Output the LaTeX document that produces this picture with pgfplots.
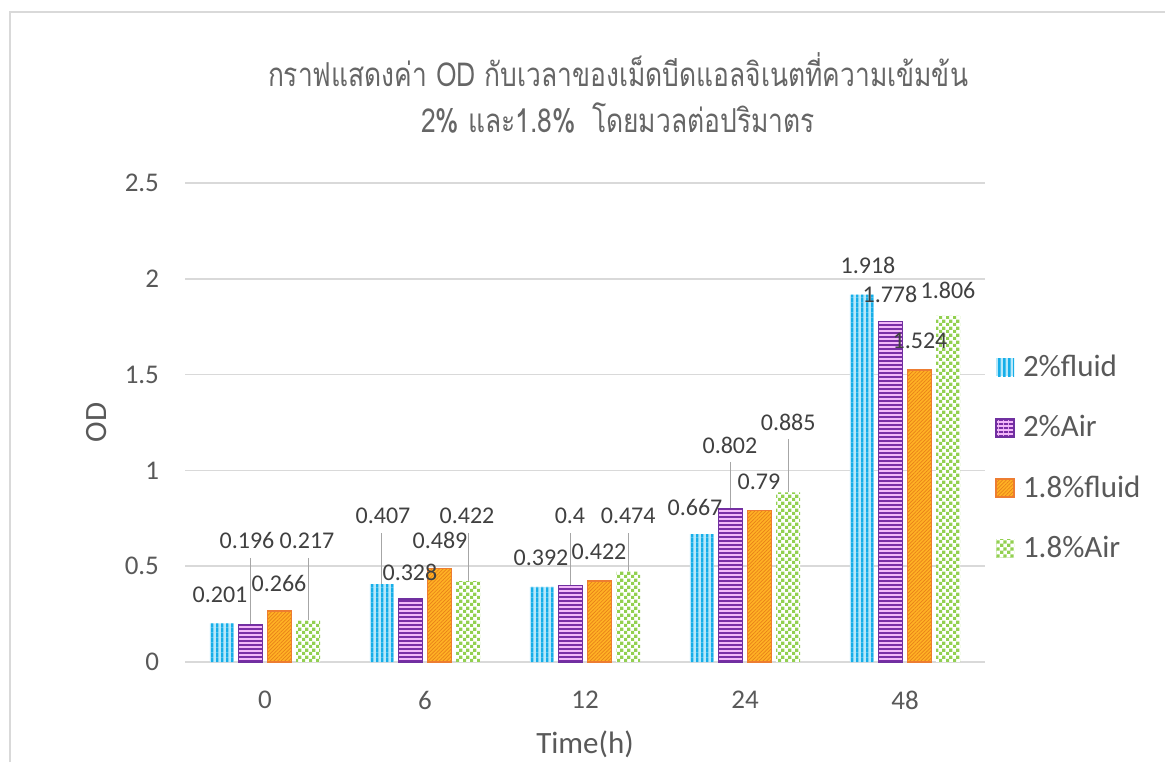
\documentclass[border=0pt]{standalone}
\usepackage{pgfplots}
\pgfplotsset{compat=1.18}
\usepackage{fontspec}
\setmainfont{Carlito}
\newfontfamily\thaifont[Script=Thai, FakeStretch=0.8]{Loma}
\usetikzlibrary{patterns,patterns.meta}

\definecolor{txt}{HTML}{595959}
\definecolor{ttl}{HTML}{666666}
\definecolor{lbl}{HTML}{404040}
\definecolor{gridc}{HTML}{D9D9D9}
\definecolor{leader}{HTML}{A6A6A6}
\definecolor{cyanS}{HTML}{16AEE8}
\definecolor{cyanB}{HTML}{B8E8FA}
\definecolor{purpS}{HTML}{7A2DA6}
\definecolor{purpB}{HTML}{F2B8F8}
\definecolor{purpE}{HTML}{7030A0}
\definecolor{orgB}{HTML}{FFB224}
\definecolor{orgS}{HTML}{E8801A}
\definecolor{orgE}{HTML}{ED7D31}
\definecolor{grnS}{HTML}{92D050}

\pgfdeclarepatternformonly{vstripe}{\pgfpointorigin}{\pgfqpoint{2.4pt}{2.4pt}}{\pgfqpoint{2.4pt}{2.4pt}}%
{\pgfpathrectangle{\pgfpointorigin}{\pgfqpoint{1.3pt}{2.4pt}}\pgfusepath{fill}}
\pgfdeclarepatternformonly{hstripe}{\pgfpointorigin}{\pgfqpoint{2.2pt}{2.2pt}}{\pgfqpoint{2.2pt}{2.2pt}}%
{\pgfpathrectangle{\pgfpointorigin}{\pgfqpoint{2.2pt}{1.1pt}}\pgfusepath{fill}}
\pgfdeclarepatternformonly{mycheck}{\pgfpointorigin}{\pgfqpoint{3.6pt}{3.6pt}}{\pgfqpoint{3.6pt}{3.6pt}}%
{\pgfpathrectangle{\pgfpointorigin}{\pgfqpoint{1.8pt}{1.8pt}}%
 \pgfpathrectangle{\pgfqpoint{1.8pt}{1.8pt}}{\pgfqpoint{1.8pt}{1.8pt}}\pgfusepath{fill}}

\tikzset{
  s1/.style={fill=cyanB, draw=none, postaction={pattern=vstripe, pattern color=cyanS}},
  s2/.style={fill=purpB, draw=purpE, line width=0.8pt, postaction={pattern=hstripe, pattern color=purpS}},
  s3/.style={fill=orgB, draw=orgE, line width=0.8pt, postaction={pattern={Lines[angle=45,distance=1.3pt,line width=0.35pt]}, pattern color=orgS}},
  s4/.style={fill=white, draw=none, postaction={pattern=mycheck, pattern color=grnS}},
  dl/.style={font=\fontsize{12}{14}\selectfont, text=lbl, inner sep=0pt, anchor=center},
  ld/.style={draw=leader, line width=0.6pt},
}

\pgfplotstableread{
x  f2     a2     f18    a18
0  0.201  0.196  0.266  0.217
1  0.407  0.328  0.489  0.422
2  0.392  0.400  0.422  0.474
3  0.667  0.802  0.790  0.885
4  1.918  1.778  1.524  1.806
}\datatab

\begin{document}
\begin{tikzpicture}
\useasboundingbox (0,0) rectangle (582.5pt,381pt);
\draw[gridc, line width=1pt] (5pt,0) -- (5pt,375pt) -- (582.5pt,375pt);

\begin{axis}[
  scale only axis, width=400pt, height=239.5pt,
  at={(92.5pt,50pt)}, anchor=south west,
  xmin=-0.5, xmax=4.5, ymin=0, ymax=2.5,
  xtick={0,1,2,3,4}, xticklabels={0,6,12,24,48},
  ytick={0,0.5,1,1.5,2,2.5}, yticklabels={0,0.5,1,1.5,2,2.5},
  ymajorgrids, grid style={draw=gridc, line width=0.8pt},
  axis line style={draw=none}, major tick length=0pt,
  ticklabel style={font=\fontsize{13.5}{16}\selectfont, text=txt},
  xticklabel style={yshift=-11pt},
  yticklabel style={xshift=-9.5pt},
  /pgf/number format/assume math mode=true,
  xlabel={Time(h)}, ylabel={OD},
  label style={font=\fontsize{15.5}{18}\selectfont, text=txt},
  xlabel style={at={(axis description cs:0.5,-0.171)}, anchor=center},
  ylabel style={at={(axis description cs:-0.111,0.5)}, anchor=center},
  ybar, bar width=0.15,
  legend image code/.code={\path[#1] (0pt,-4.5pt) rectangle (9pt,4.5pt);
    \path[draw=none, fill=none] (12pt,0pt) circle (0pt);},
  legend style={at={(axis description cs:1.0125,0.426)}, anchor=west, draw=none, fill=none,
    font=\fontsize{15.5}{18}\selectfont, text=txt, row sep=16pt, inner sep=0pt,
    nodes={inner sep=1pt}},
  legend cell align=left,
]
\addplot[s1, bar shift=-0.27] table[x=x,y=f2] {\datatab};
\addplot[s2, bar shift=-0.09] table[x=x,y=a2] {\datatab};
\addplot[s3, bar shift=0.09] table[x=x,y=f18] {\datatab};
\addplot[s4, bar shift=0.27] table[x=x,y=a18] {\datatab};
\legend{2\%fluid,2\%Air,1.8\%fluid,1.8\%Air}

% leader lines
\draw[ld] (axis cs:-0.09,0.543) -- (axis cs:-0.09,0.196);
\draw[ld] (axis cs:0.27,0.543) -- (axis cs:0.27,0.217);
\draw[ld] (axis cs:0.73,0.673) -- (axis cs:0.73,0.407);
\draw[ld] (axis cs:1.27,0.673) -- (axis cs:1.27,0.422);
\draw[ld] (axis cs:1.91,0.673) -- (axis cs:1.91,0.400);
\draw[ld] (axis cs:2.27,0.673) -- (axis cs:2.27,0.474);
\draw[ld] (axis cs:2.91,1.044) -- (axis cs:2.91,0.802);
\draw[ld] (axis cs:3.27,1.164) -- (axis cs:3.27,0.885);

% data labels
\node[dl] at (axis cs:-0.281,0.350) {0.201};
\node[dl] at (axis cs:-0.1125,0.632) {0.196};
\node[dl] at (axis cs:0.0875,0.412) {0.266};
\node[dl] at (axis cs:0.2625,0.632) {0.217};
\node[dl] at (axis cs:0.7375,0.762) {0.407};
\node[dl] at (axis cs:0.906,0.470) {0.328};
\node[dl] at (axis cs:1.094,0.637) {0.489};
\node[dl] at (axis cs:1.2625,0.762) {0.422};
\node[dl] at (axis cs:1.725,0.543) {0.392};
\node[dl] at (axis cs:1.906,0.762) {0.4};
\node[dl] at (axis cs:2.0875,0.574) {0.422};
\node[dl] at (axis cs:2.27,0.762) {0.474};
\node[dl] at (axis cs:2.6875,0.809) {0.667};
\node[dl] at (axis cs:2.906,1.133) {0.802};
\node[dl] at (axis cs:3.0875,0.939) {0.79};
\node[dl] at (axis cs:3.27,1.253) {0.885};
\node[dl] at (axis cs:3.769,2.072) {1.918};
\node[dl] at (axis cs:3.906,1.921) {1.778};
\node[dl] at (axis cs:4.094,1.675) {1.524};
\node[dl] at (axis cs:4.269,1.942) {1.806};
\end{axis}

\node[font=\thaifont\fontsize{16.5}{19}\selectfont, text=ttl, anchor=center] at (309pt,346pt)
  {กราฟแสดงค่า OD กับเวลาของเม็ดบีดแอลจิเนตที่ความเข้มข้น};
\node[font=\thaifont\fontsize{16.5}{19}\selectfont, text=ttl, anchor=center] at (309pt,322pt)
  {2\% และ1.8\%\hspace{0.5em}โดยมวลต่อปริมาตร};
\end{tikzpicture}
\end{document}
